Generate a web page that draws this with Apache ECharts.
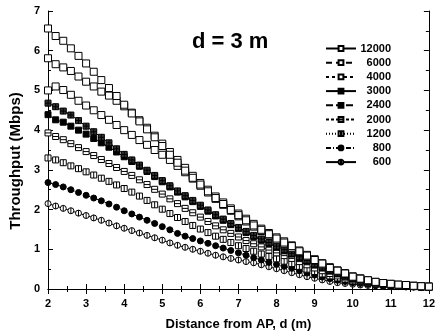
<!DOCTYPE html>
<html><head><meta charset="utf-8">
<script src="https://cdn.jsdelivr.net/npm/echarts@6/dist/echarts.min.js"></script>
<style>html,body{margin:0;padding:0;background:#fff}#c{width:438px;height:336px}</style>
</head><body><div id="c"></div>
<script>
var distances = [2.0,2.2,2.4,2.6,2.8,3.0,3.2,3.4,3.6,3.8,4.0,4.2,4.4,4.6,4.8,5.0,5.2,5.4,5.6,5.8,6.0,6.2,6.4,6.6,6.8,7.0,7.2,7.4,7.6,7.8,8.0,8.2,8.4,8.6,8.8,9.0,9.2,9.4,9.6,9.8,10.0,10.2,10.4,10.6,10.8,11.0,11.2,11.4,11.6,11.8,12.0];
var xTicks = [2,3,4,5,6,7,8,9,10,11,12];
var yTicks = [0,1,2,3,4,5,6,7];
var t12000 = [6.56,6.37,6.25,6.06,5.87,5.68,5.47,5.26,5.06,4.86,4.64,4.42,4.22,4.02,3.82,3.60,3.38,3.18,2.98,2.80,2.63,2.46,2.29,2.14,1.99,1.86,1.73,1.60,1.49,1.38,1.27,1.17,1.08,0.95,0.84,0.73,0.64,0.53,0.46,0.39,0.31,0.26,0.22,0.18,0.15,0.13,0.11,0.10,0.08,0.07,0.06];
var t6000 = [5.81,5.66,5.58,5.49,5.35,5.22,5.10,4.97,4.87,4.74,4.60,4.44,4.25,4.06,3.86,3.66,3.45,3.25,3.05,2.85,2.67,2.50,2.33,2.18,2.03,1.90,1.77,1.64,1.52,1.41,1.30,1.20,1.10,0.97,0.86,0.75,0.65,0.55,0.47,0.40,0.32,0.27,0.22,0.18,0.15,0.13,0.11,0.10,0.08,0.07,0.06];
var t4000 = [5.00,5.10,5.01,4.89,4.74,4.62,4.50,4.38,4.26,4.13,4.00,3.88,3.75,3.63,3.50,3.38,3.25,3.10,2.94,2.78,2.60,2.43,2.27,2.12,1.97,1.83,1.70,1.57,1.46,1.35,1.24,1.14,1.04,0.93,0.82,0.71,0.62,0.52,0.45,0.38,0.30,0.25,0.21,0.17,0.14,0.12,0.10,0.09,0.08,0.07,0.06];
var t3000 = [4.68,4.59,4.48,4.38,4.24,4.10,3.96,3.82,3.68,3.53,3.39,3.25,3.12,2.99,2.86,2.73,2.60,2.47,2.35,2.23,2.11,1.99,1.87,1.76,1.65,1.55,1.45,1.35,1.26,1.17,1.08,0.99,0.90,0.81,0.72,0.63,0.55,0.47,0.40,0.33,0.27,0.23,0.19,0.16,0.13,0.11,0.10,0.08,0.07,0.06,0.05];
var t2400 = [4.39,4.26,4.20,4.10,4.00,3.90,3.79,3.68,3.57,3.45,3.33,3.21,3.09,2.96,2.83,2.70,2.57,2.44,2.32,2.20,2.08,1.96,1.84,1.73,1.62,1.52,1.42,1.32,1.23,1.14,1.05,0.96,0.88,0.79,0.70,0.61,0.53,0.45,0.38,0.32,0.26,0.22,0.18,0.15,0.13,0.11,0.09,0.08,0.07,0.06,0.05];
var t2000 = [3.93,3.84,3.76,3.66,3.56,3.46,3.36,3.26,3.16,3.06,2.96,2.86,2.75,2.63,2.51,2.39,2.27,2.15,2.03,1.92,1.81,1.70,1.59,1.49,1.40,1.31,1.22,1.14,1.06,0.98,0.91,0.84,0.77,0.69,0.61,0.53,0.46,0.39,0.33,0.28,0.23,0.19,0.16,0.13,0.11,0.10,0.08,0.07,0.06,0.05,0.05];
var t1200 = [3.30,3.25,3.18,3.10,3.03,2.95,2.87,2.79,2.71,2.62,2.53,2.44,2.34,2.23,2.12,2.01,1.90,1.80,1.70,1.60,1.51,1.42,1.33,1.25,1.17,1.09,1.02,0.95,0.88,0.82,0.76,0.70,0.64,0.57,0.50,0.44,0.38,0.33,0.28,0.24,0.20,0.17,0.14,0.12,0.10,0.09,0.08,0.07,0.06,0.05,0.04];
var t800 = [2.68,2.63,2.57,2.50,2.43,2.36,2.29,2.22,2.14,2.06,1.97,1.89,1.81,1.73,1.65,1.57,1.49,1.40,1.33,1.27,1.21,1.15,1.09,1.03,0.97,0.91,0.85,0.79,0.73,0.67,0.62,0.57,0.52,0.46,0.40,0.35,0.30,0.26,0.22,0.19,0.16,0.14,0.12,0.10,0.09,0.08,0.07,0.06,0.05,0.05,0.04];
var t600 = [2.15,2.09,2.03,1.97,1.91,1.85,1.79,1.73,1.66,1.59,1.53,1.47,1.41,1.35,1.29,1.23,1.16,1.10,1.05,1.00,0.95,0.90,0.85,0.81,0.77,0.73,0.69,0.66,0.61,0.56,0.51,0.46,0.41,0.36,0.31,0.27,0.23,0.19,0.16,0.14,0.12,0.10,0.09,0.08,0.07,0.06,0.06,0.05,0.05,0.04,0.04];
var seriesNames = ['12000','6000','4000','3000','2400','2000','1200','800','600'];
var seriesValues = [t12000,t6000,t4000,t3000,t2400,t2000,t1200,t800,t600];
var titleText = 'd = 3 m';
var xName = 'Distance from AP, d (m)';
var yName = 'Throughput (Mbps)';

var FONT = '"Liberation Sans", Arial, sans-serif';
var styles = [
  {sym:'rect', fill:'#fff', dash:'solid', size:7},
  {sym:'rect', fill:'#fff', dash:[6,4], size:7},
  {sym:'rect', fill:'#fff', dash:[3,3], size:7},
  {sym:'path://M0,0H10V10H0Z M5,0V10 M0,5H10', fill:'#333', dash:'solid', size:6},
  {sym:'rect', fill:'#000', dash:[7,3], size:6},
  {sym:'path://M0,0H10V10H0Z M0,5H10', fill:'#fff', dash:[3,2], size:6},
  {sym:'path://M0,0H10V10H0Z M5,0V10', fill:'#fff', dash:[1,2], size:6},
  {sym:'circle', fill:'#000', dash:[5,2,1,2], size:6},
  {sym:'path://M5,0A5,5 0 1,1 5,10A5,5 0 1,1 5,0Z M5,0V10', fill:'#fff', dash:'solid', size:6}
];

var series = seriesNames.map(function(n, i){
  return {
    name: n, type: 'line', xAxisIndex: 0, yAxisIndex: 0,
    data: distances.map(function(d, j){ return [d, seriesValues[i][j]]; }),
    symbol: styles[i].sym, symbolSize: styles[i].size, symbolKeepAspect: true,
    showAllSymbol: true,
    itemStyle: {color: styles[i].fill, borderColor: '#000', borderWidth: 1},
    lineStyle: {color: '#000', width: 1, type: styles[i].dash},
    emphasis: {disabled: true}, animation: false, z: 10 - i
  };
});

function axisCommon(extra){
  var a = {
    axisLine: {show: true, lineStyle: {color: '#000', width: 1}},
    axisTick: {show: true, inside: true, length: 5, lineStyle: {color: '#000', width: 1}},
    minorTick: {show: true, splitNumber: 2, length: 3, lineStyle: {color: '#000', width: 1}},
    splitLine: {show: false},
    axisLabel: {color: '#000', fontFamily: FONT, fontWeight: 'bold', fontSize: 11}
  };
  for (var k in extra) a[k] = extra[k];
  return a;
}

var chart = echarts.init(document.getElementById('c'), null, {renderer: 'canvas'});
chart.setOption({
  animation: false,
  backgroundColor: '#fff',
  title: {text: titleText, left: 187, top: 26,
    textStyle: {fontFamily: FONT, fontWeight: 'bold', fontSize: 22, color: '#000'}},
  legend: {
    orient: 'vertical', left: 320, top: 38, itemWidth: 30, itemHeight: 6, itemGap: 3.2,
    data: seriesNames, selectedMode: false,
    formatter: '{a|{name}}',
    textStyle: {fontFamily: FONT, fontWeight: 'bold', fontSize: 11, color: '#000',
      rich: {a: {width: 30, align: 'right', fontFamily: FONT, fontWeight: 'bold', fontSize: 11, color: '#000'}}}
  },
  grid: {left: 46, right: 5, top: 11, bottom: 46},
  xAxis: [
    axisCommon({type: 'value', min: xTicks[0], max: xTicks[xTicks.length-1], interval: 1,
      name: xName, nameLocation: 'middle', nameGap: 29,
      nameTextStyle: {fontFamily: FONT, fontWeight: 'bold', fontSize: 13, color: '#000'},
      axisLabel: {color: '#000', fontFamily: FONT, fontWeight: 'bold', fontSize: 11, margin: 9}}),
    axisCommon({type: 'value', position: 'top', min: xTicks[0], max: xTicks[xTicks.length-1], interval: 1,
      axisLabel: {show: false}})
  ],
  yAxis: [
    axisCommon({type: 'value', min: yTicks[0], max: yTicks[yTicks.length-1], interval: 1,
      name: yName, nameLocation: 'middle', nameGap: 23,
      nameTextStyle: {fontFamily: FONT, fontWeight: 'bold', fontSize: 15, color: '#000', padding: [0, 22, 0, 0]},
      axisLabel: {color: '#000', fontFamily: FONT, fontWeight: 'bold', fontSize: 11, margin: 8}}),
    axisCommon({type: 'value', position: 'right', min: yTicks[0], max: yTicks[yTicks.length-1], interval: 1,
      axisLabel: {show: false}})
  ],
  series: series
});
</script></body></html>
